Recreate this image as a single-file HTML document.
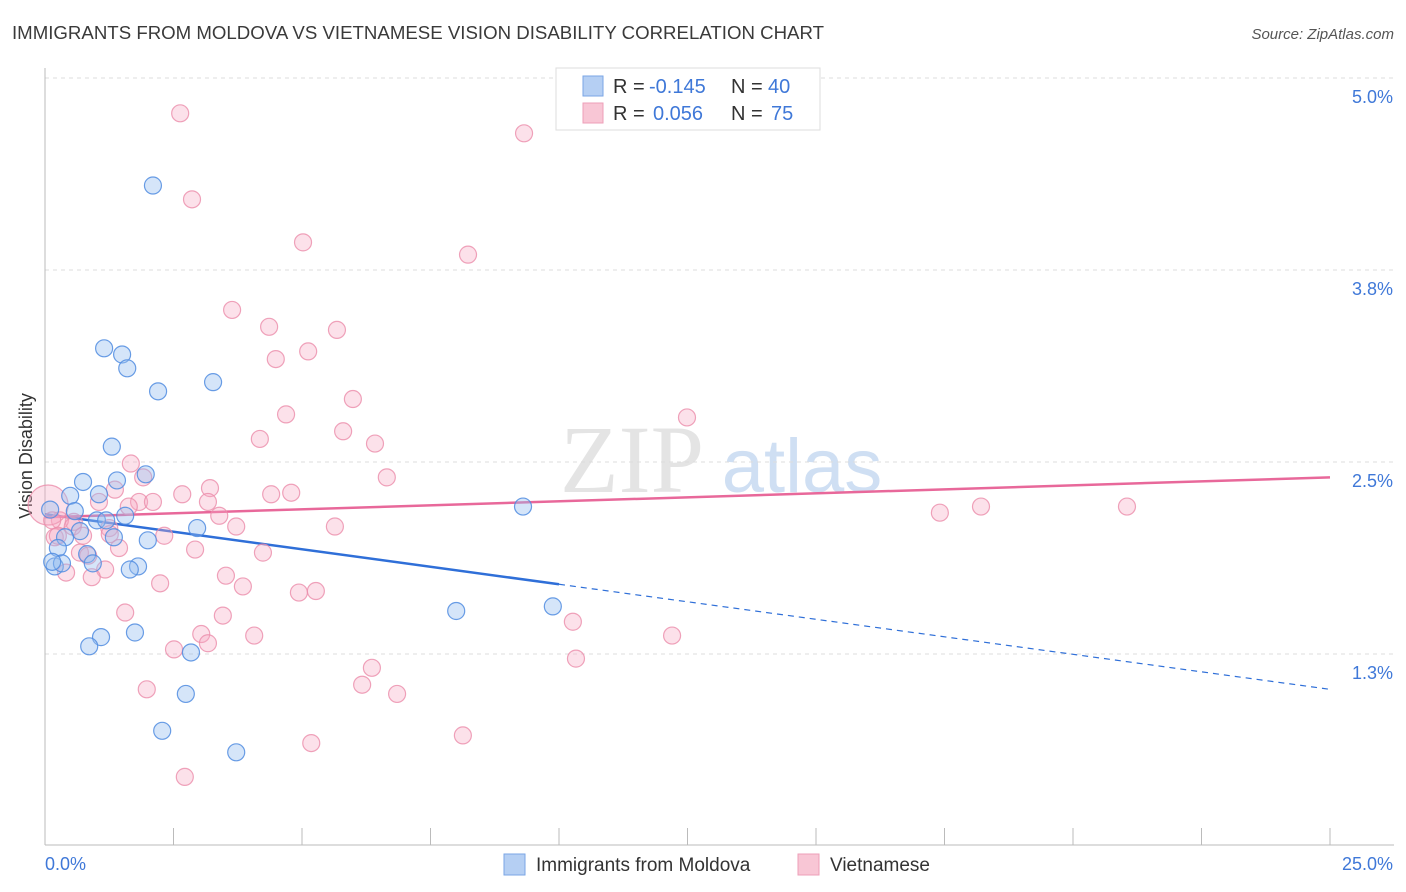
<!DOCTYPE html>
<html><head><meta charset="utf-8">
<style>
body{margin:0;background:#fff;font-family:"Liberation Sans",sans-serif;}
svg{display:block}
</style></head>
<body>
<svg id="chart" width="1406" height="892" viewBox="0 0 1406 892">
<text x="12" y="39" font-size="18" fill="#3a3a3a" textLength="812" lengthAdjust="spacingAndGlyphs">IMMIGRANTS FROM MOLDOVA VS VIETNAMESE VISION DISABILITY CORRELATION CHART</text>
<text x="1394" y="39" font-size="15" fill="#555" font-style="italic" text-anchor="end">Source: ZipAtlas.com</text>
<text x="32" y="456" font-size="18" fill="#333" transform="rotate(-90 32 456)" text-anchor="middle">Vision Disability</text>
<g>
<text x="632" y="492" font-size="96" fill="#e4e4e4" font-family="Liberation Serif,serif" text-anchor="middle">ZIP</text>
<text x="802" y="492" font-size="76" fill="#cfdff3" text-anchor="middle">atlas</text>
</g>
<g id="grid"></g>
<g id="axes"></g>
<g id="trend"></g>
<g id="points"></g>
<g>
<rect x="556" y="68" width="264" height="62" fill="#fff" stroke="#ddd"/>
<rect x="583" y="76" width="20" height="20" fill="#b5cff3" stroke="#7aa6e6"/>
<rect x="583" y="103" width="20" height="20" fill="#f8c6d5" stroke="#ee9fb8"/>
<text x="613" y="93" font-size="20" fill="#333">R =</text>
<text x="649" y="93" font-size="20" fill="#3f78d8">-0.145</text>
<text x="731" y="93" font-size="20" fill="#333">N =</text>
<text x="768" y="93" font-size="20" fill="#3f78d8">40</text>
<text x="613" y="120" font-size="20" fill="#333">R =</text>
<text x="653" y="120" font-size="20" fill="#3f78d8">0.056</text>
<text x="731" y="120" font-size="20" fill="#333">N =</text>
<text x="771" y="120" font-size="20" fill="#3f78d8">75</text>
</g>
<g>
<rect x="504" y="854" width="21" height="21" fill="#b5cff3" stroke="#7aa6e6"/>
<text x="536" y="871" font-size="19" fill="#333">Immigrants from Moldova</text>
<rect x="798" y="854" width="21" height="21" fill="#f8c6d5" stroke="#ee9fb8"/>
<text x="830" y="871" font-size="19" fill="#333">Vietnamese</text>
</g>
</svg>
<script>
const yTicks=[1.25,2.5,3.75,5.0];
const yTickLabels=["1.3%","2.5%","3.8%","5.0%"];
const xEndLabels=["0.0%","25.0%"];
const moldovaX=[2.10,1.15,1.50,1.60,2.20,3.27,1.30,1.96,1.40,0.74,0.49,1.05,0.58,1.56,1.01,1.19,2.96,0.68,0.39,1.34,2.00,0.25,0.82,0.93,1.81,1.65,0.19,0.33,8.00,9.88,9.30,1.75,1.09,0.86,2.84,2.74,2.28,3.72,0.14,0.10];
const moldovaY=[4.30,3.24,3.20,3.11,2.96,3.02,2.60,2.42,2.38,2.37,2.28,2.29,2.18,2.15,2.12,2.12,2.07,2.05,2.01,2.01,1.99,1.94,1.90,1.84,1.82,1.80,1.82,1.84,1.53,1.56,2.21,1.39,1.36,1.30,1.26,0.99,0.75,0.61,1.85,2.19];
const vietX=[2.63,9.32,2.86,5.02,8.23,3.64,4.36,5.68,5.12,4.49,5.99,12.49,4.69,5.80,4.18,6.42,6.65,1.67,1.91,3.21,4.79,4.40,2.67,1.36,1.05,1.83,2.10,3.17,3.39,3.72,5.64,1.25,1.63,17.41,18.21,21.05,0.56,0.29,0.54,0.19,0.74,2.32,1.26,1.44,2.92,4.24,0.68,0.84,0.41,1.17,0.91,3.52,2.24,3.85,4.94,5.27,1.56,3.46,10.27,4.07,3.04,3.17,12.20,2.51,6.36,10.33,1.98,6.17,6.85,8.13,5.18,2.72,0.06,0.14,0.25];
const vietY=[4.77,4.64,4.21,3.93,3.85,3.49,3.38,3.36,3.22,3.17,2.91,2.79,2.81,2.70,2.65,2.62,2.40,2.49,2.40,2.33,2.30,2.29,2.29,2.32,2.24,2.24,2.24,2.24,2.15,2.08,2.08,2.07,2.21,2.17,2.21,2.21,2.11,2.12,2.08,2.01,2.02,2.02,2.03,1.94,1.93,1.91,1.91,1.89,1.78,1.80,1.75,1.76,1.71,1.69,1.65,1.66,1.52,1.50,1.46,1.37,1.38,1.32,1.37,1.28,1.16,1.22,1.02,1.05,0.99,0.72,0.67,0.45,2.22,2.12,2.02];
const moldovaTrend=[2.16,1.02];
const vietTrend=[2.14,2.40];
const X=v=>45+v*51.4;
const Y=v=>78+(5-v)*153.6;
const NS="http://www.w3.org/2000/svg";
function mk(tag,attrs,parent){const e=document.createElementNS(NS,tag);for(const k in attrs)e.setAttribute(k,attrs[k]);parent.appendChild(e);return e;}
const grid=document.getElementById('grid'),axes=document.getElementById('axes');
yTicks.forEach((t,i)=>{
  const g=mk('line',{x1:45,x2:1394,y1:Y(t),y2:Y(t),stroke:'#ddd','stroke-dasharray':'4 4'},grid);
  
  
  const l=mk('text',{x:1393,y:Y(t)+25,'font-size':18,fill:'#3f78d8','text-anchor':'end'},axes);
  l.textContent=yTickLabels[i];
  
  
});
const ya=mk('line',{x1:45,x2:45,y1:68,y2:845,stroke:'#bbb'},axes);


const xa=mk('line',{x1:45,x2:1394,y1:845,y2:845,stroke:'#bbb'},axes);


for(let i=0;i<=10;i++){const v=i*2.5;const t=mk('line',{x1:X(v),x2:X(v),y1:828,y2:845,stroke:'#bbb'},axes);
  
  }
[[0,'start',X(0)],[1,'end',1393]].forEach(([i,a,x])=>{const l=mk('text',{x:x,y:870,'font-size':18,fill:'#3f78d8','text-anchor':a},axes);l.textContent=xEndLabels[i];
  
  });
const pts=document.getElementById('points');
function draw(xs,ys,fill,stroke,name){xs.forEach((x,i)=>{const big=(x<0.12&&name==='vietnamese-point');
  const c=mk('circle',{cx:X(x),cy:Y(ys[i]),r:big?20:8.5,fill:fill,stroke:stroke,'stroke-width':1.2},pts);
  
  });}
draw(vietX,vietY,'rgba(245,170,195,0.35)','rgba(235,140,170,0.8)','vietnamese-point');
draw(moldovaX,moldovaY,'rgba(150,190,240,0.4)','rgba(80,140,225,0.85)','moldova-point');
const tr=document.getElementById('trend');
const mAt=v=>moldovaTrend[0]+(moldovaTrend[1]-moldovaTrend[0])*v/25;
const b1=mk('line',{x1:X(0),y1:Y(mAt(0)),x2:X(10),y2:Y(mAt(10)),stroke:'#2f6fd8','stroke-width':2.5},tr);


const b2=mk('line',{x1:X(10),y1:Y(mAt(10)),x2:X(25),y2:Y(mAt(25)),stroke:'#2f6fd8','stroke-width':1.2,'stroke-dasharray':'6 5'},tr);


const p1=mk('line',{x1:X(0),y1:Y(vietTrend[0]),x2:X(25),y2:Y(vietTrend[1]),stroke:'#e8689a','stroke-width':2.5},tr);


</script>
</body></html>
